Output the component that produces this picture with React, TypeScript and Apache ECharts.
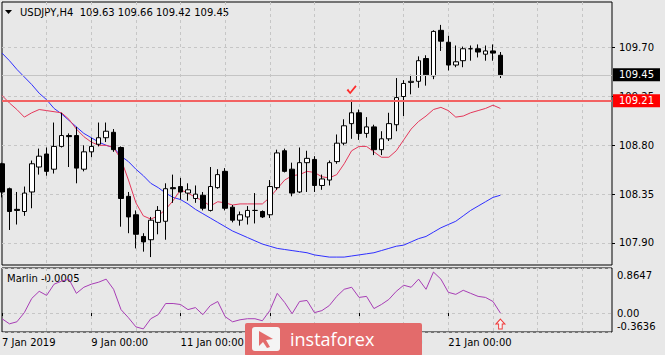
import React, { useEffect, useRef } from 'react';
import * as echarts from 'echarts';

// ---------------- data ----------------
const instrument = 'USDJPY,H4';
const year = 2019;
const days = ['7 Jan', '8 Jan', '9 Jan', '10 Jan', '11 Jan', '14 Jan', '15 Jan', '16 Jan', '17 Jan', '18 Jan', '21 Jan', '22 Jan', '23 Jan', '24 Jan', '25 Jan'];
const hours = ['00:00', '04:00', '08:00', '12:00', '16:00', '20:00'];

const opens = [
  108.63, 108.40, 108.21, 108.19, 108.37, 108.60, 108.72, 108.58, 108.79, 108.89,
  108.89, 108.58, 108.74, 108.81, 108.87, 108.92, 108.78, 108.33, 108.16, 107.96,
  107.93, 108.09, 108.10, 108.41, 108.42, 108.36, 108.31, 108.34, 108.20, 108.41,
  108.56, 108.23, 108.11, 108.14, 108.20, 108.19, 108.16, 108.41, 108.75, 108.58,
  108.37, 108.64, 108.67, 108.43, 108.48, 108.65, 108.82, 109.00, 109.10, 108.91,
  108.97, 108.76, 108.86, 108.99, 109.25, 109.38, 109.39, 109.60, 109.44, 109.86,
  109.75, 109.54, 109.58, 109.69, 109.69, 109.64, 109.67, 109.63,
];
const closes = [
  108.37, 108.19, 108.20, 108.36, 108.63, 108.70, 108.56, 108.79, 108.89, 108.88,
  108.59, 108.74, 108.79, 108.87, 108.93, 108.76, 108.31, 108.14, 107.98, 107.91,
  108.11, 108.20, 108.40, 108.40, 108.37, 108.39, 108.35, 108.22, 108.42, 108.53,
  108.22, 108.11, 108.16, 108.20, 108.20, 108.14, 108.42, 108.73, 108.56, 108.36,
  108.64, 108.68, 108.43, 108.49, 108.64, 108.82, 108.98, 109.10, 108.91, 108.97,
  108.76, 108.86, 109.00, 109.24, 109.37, 109.39, 109.58, 109.45, 109.85, 109.76,
  109.54, 109.57, 109.69, 109.69, 109.66, 109.67, 109.65, 109.45,
];
const highs = [
  108.64, 108.41, 108.37, 108.42, 108.66, 108.77, 108.78, 109.01, 109.10, 108.91,
  108.97, 108.80, 108.87, 109.01, 109.01, 108.95, 108.79, 108.37, 108.20, 107.99,
  108.14, 108.24, 108.45, 108.53, 108.50, 108.45, 108.43, 108.37, 108.60, 108.58,
  108.59, 108.25, 108.19, 108.24, 108.36, 108.20, 108.48, 108.76, 108.77, 108.64,
  108.78, 108.75, 108.70, 108.53, 108.66, 108.90, 109.04, 109.22, 109.13, 109.06,
  108.99, 108.93, 109.10, 109.42, 109.40, 109.45, 109.62, 109.63, 109.86, 109.91,
  109.81, 109.72, 109.71, 109.72, 109.73, 109.72, 109.73, 109.66,
];
const lows = [
  108.32, 108.02, 108.07, 108.15, 108.22, 108.53, 108.52, 108.54, 108.78, 108.60,
  108.45, 108.56, 108.69, 108.79, 108.83, 108.74, 108.05, 107.99, 107.85, 107.82,
  107.77, 107.98, 107.93, 108.27, 108.30, 108.29, 108.27, 108.20, 108.19, 108.40,
  108.20, 108.09, 108.06, 108.07, 108.08, 108.13, 108.13, 108.39, 108.55, 108.33,
  108.36, 108.37, 108.37, 108.39, 108.43, 108.63, 108.80, 108.86, 108.85, 108.87,
  108.71, 108.71, 108.84, 108.93, 109.07, 109.27, 109.33, 109.35, 109.41, 109.67,
  109.49, 109.52, 109.52, 109.58, 109.61, 109.58, 109.58, 109.42,
];
const maFast = [
  109.26, 109.19, 109.13, 109.06, 109.10, 109.13, 109.12, 109.11, 109.10, 109.04,
  108.95, 108.88, 108.83, 108.80, 108.80, 108.78, 108.67, 108.48, 108.27, 108.15,
  108.12, 108.15, 108.21, 108.29, 108.39, 108.36, 108.32, 108.29, 108.24, 108.28,
  108.27, 108.25, 108.26, 108.26, 108.26, 108.26, 108.32, 108.40, 108.48, 108.52,
  108.53, 108.56, 108.55, 108.51, 108.50, 108.53, 108.63, 108.75, 108.79, 108.79,
  108.74, 108.69, 108.69, 108.75, 108.85, 108.95, 109.02, 109.07, 109.13, 109.15,
  109.12, 109.06, 109.07, 109.10, 109.12, 109.14, 109.17, 109.14,
];
const maSlow = [
  109.65, 109.58, 109.50, 109.43, 109.36, 109.28, 109.22, 109.14, 109.09, 109.03,
  108.97, 108.91, 108.87, 108.83, 108.80, 108.78, 108.70, 108.65, 108.58, 108.52,
  108.45, 108.41, 108.36, 108.32, 108.30, 108.26, 108.21, 108.17, 108.13, 108.09,
  108.05, 108.01, 107.98, 107.95, 107.92, 107.89, 107.87, 107.85, 107.84, 107.83,
  107.82, 107.81, 107.79, 107.78, 107.77, 107.77, 107.77, 107.78, 107.79, 107.80,
  107.81, 107.83, 107.85, 107.87, 107.88, 107.91, 107.94, 107.96, 108.00, 108.04,
  108.07, 108.10, 108.15, 108.20, 108.24, 108.28, 108.32, 108.34,
];
const marlin = [
  -0.109, -0.207, -0.168, 0.008, 0.281, 0.417, 0.339, 0.554, 0.612, 0.651,
  0.378, 0.495, 0.554, 0.593, 0.651, 0.456, 0.066, -0.090, -0.265, -0.304,
  -0.109, -0.031, 0.183, 0.183, 0.164, 0.066, 0.105, -0.031, 0.144, 0.222,
  -0.070, -0.168, -0.129, -0.109, -0.109, -0.148, 0.047, 0.378, 0.203, -0.012,
  0.222, 0.242, 0.008, 0.047, 0.144, 0.320, 0.456, 0.495, 0.300, 0.320,
  0.086, 0.164, 0.261, 0.417, 0.534, 0.495, 0.651, 0.456, 0.787, 0.651,
  0.398, 0.359, 0.437, 0.378, 0.320, 0.300, 0.222, -0.0005,
];
const priceTicks = [107.90, 108.35, 108.80, 109.25, 109.70];
const marlinTicks = [0.8647, 0.0, -0.3636];
const priceRange = [107.697, 110.121];
const marlinRange = [-0.3636, 0.8647];
const levelLine = 109.21;
const checkBar = 47;
const futureSlots = 15;
const labelEvery = 12;
const gridEvery = 6;

// ---------------- helpers ----------------
const FONT = 'DejaVu Sans';
const N = opens.length;
const categories: string[] = [];
days.forEach((d) => hours.forEach((h) => categories.push(`${d} ${h}`)));
const axisCats = categories.slice(0, N + futureSlots);
const candles = opens.map((o, i) => [o, closes[i], lows[i], highs[i]]);

const checkPath = 'path://M0,5 L1.6,3.6 L3.6,6.4 L9,0 L10.4,1.2 L3.7,9 Z';
const arrowPath = 'path://M5,0 L10,5 L7,5 L7,10 L3,10 L3,5 L0,5 Z';

export default function App() {
  const ref = useRef<HTMLDivElement>(null);

  useEffect(() => {
    if (!ref.current) return;
    const chart = echarts.init(ref.current, undefined, { renderer: 'svg' });
    const last = N - 1;
    const header = `${instrument}  ${opens[last].toFixed(2)} ${highs[last].toFixed(2)} ${lows[last].toFixed(2)} ${closes[last].toFixed(2)}`;
    const dash = { color: '#c6c6c6', type: [3, 3] as number[], width: 1 };

    const xBase = (gridIndex: number, showLabels: boolean) => ({
      type: 'category' as const,
      gridIndex,
      data: axisCats,
      boundaryGap: false,
      axisLine: { show: false },
      axisTick: {
        show: showLabels,
        length: 3,
        interval: (i: number) => i % labelEvery === 0 && i < N,
        lineStyle: { color: '#000' },
      },
      axisLabel: {
        show: showLabels,
        interval: (i: number) => i % labelEvery === 0 && i < N,
        formatter: (v: string, i: number) => (i === 0 ? `${days[0]} ${year}` : v),
        align: 'left' as const,
        margin: 5,
        color: '#000',
        fontSize: 10,
        fontFamily: FONT,
      },
      splitLine: {
        show: true,
        interval: (i: number) => i > 0 && i % gridEvery === 0,
        lineStyle: dash,
      },
    });

    const Z = 100;
    chart.setOption({
      animation: false,
      backgroundColor: '#e8e8e8',
      grid: [
        { left: 2, top: 2, width: 610, height: 263, show: true, borderColor: '#000', borderWidth: 1, backgroundColor: 'transparent', outerBoundsMode: 'none' },
        { left: 2, top: 268, width: 610, height: 64, show: true, borderColor: '#000', borderWidth: 1, backgroundColor: 'transparent', outerBoundsMode: 'none' },
      ],
      xAxis: [xBase(0, false), xBase(1, true)],
      yAxis: [
        {
          type: 'value',
          gridIndex: 0,
          position: 'right',
          min: priceRange[0],
          max: priceRange[1],
          axisLine: { show: false },
          axisTick: { show: true, length: 3, customValues: priceTicks, lineStyle: { color: '#000' } },
          axisLabel: {
            customValues: priceTicks,
            formatter: (v: number) => v.toFixed(2),
            margin: 7,
            color: '#000',
            fontSize: 10,
            fontFamily: FONT,
          },
          splitLine: { show: true, lineStyle: dash },
        },
        {
          type: 'value',
          gridIndex: 1,
          position: 'right',
          min: marlinRange[0],
          max: marlinRange[1],
          axisLine: { show: false },
          axisTick: { show: false, customValues: marlinTicks },
          axisLabel: {
            customValues: marlinTicks,
            formatter: (v: number) => {
              if (v === marlinRange[1]) return `{top|${v.toFixed(4)}}`;
              if (v === marlinRange[0]) return `{bot|${v.toFixed(4)}}`;
              return v.toFixed(2);
            },
            rich: {
              top: { padding: [14, 0, 0, 0], color: '#000', fontSize: 10, fontFamily: FONT },
              bot: { padding: [0, 0, 11, 0], color: '#000', fontSize: 10, fontFamily: FONT },
            },
            margin: 5,
            color: '#000',
            fontSize: 10,
            fontFamily: FONT,
          },
          splitLine: { show: true, lineStyle: dash },
        },
      ],
      series: [
        {
          type: 'line',
          name: 'MA slow',
          xAxisIndex: 0,
          yAxisIndex: 0,
          data: maSlow,
          showSymbol: false,
          lineStyle: { color: '#2f2fff', width: 1 },
          z: 2,
        },
        {
          type: 'line',
          name: 'MA fast',
          xAxisIndex: 0,
          yAxisIndex: 0,
          data: maFast,
          showSymbol: false,
          lineStyle: { color: '#e4375a', width: 1 },
          z: 2,
        },
        {
          type: 'candlestick',
          name: instrument,
          xAxisIndex: 0,
          yAxisIndex: 0,
          data: candles,
          barWidth: 5,
          clip: false,
          z: 3,
          itemStyle: {
            color: '#ffffff',
            color0: '#000000',
            borderColor: '#000000',
            borderColor0: '#000000',
            borderWidth: 1,
          },
          markLine: {
            silent: true,
            symbol: ['none', 'none'],
            data: [
              {
                yAxis: closes[last],
                lineStyle: { color: '#c4c4c4', width: 1, type: 'solid' },
                label: {
                  show: true,
                  position: 'end',
                  distance: 1,
                  formatter: (p: any) => Number(p.value).toFixed(2),
                  backgroundColor: '#000',
                  color: '#fff',
                  padding: [2, 6, 1, 6],
                  fontSize: 10,
                  fontFamily: FONT,
                },
              },
              {
                yAxis: levelLine,
                lineStyle: { color: '#f26262', width: 2, type: 'solid' },
                label: {
                  show: true,
                  position: 'end',
                  distance: 1,
                  formatter: (p: any) => Number(p.value).toFixed(2),
                  backgroundColor: '#ff0000',
                  color: '#fff',
                  padding: [2, 6, 1, 6],
                  fontSize: 10,
                  fontFamily: FONT,
                },
              },
            ],
          },
          markPoint: {
            silent: true,
            label: { show: false },
            data: [
              {
                coord: [checkBar, highs[checkBar]],
                symbol: checkPath,
                symbolSize: [10, 9],
                symbolOffset: [0, -10],
                itemStyle: { color: '#ff2b2b' },
              },
            ],
          },
        },
        {
          type: 'line',
          name: 'Marlin',
          xAxisIndex: 1,
          yAxisIndex: 1,
          data: marlin,
          showSymbol: false,
          lineStyle: { color: '#a73db5', width: 1 },
          markPoint: {
            silent: true,
            label: { show: false },
            data: [
              {
                coord: [last, marlin[last]],
                symbol: arrowPath,
                symbolSize: [9, 10],
                symbolOffset: [0, 11],
                itemStyle: { color: 'rgba(255,255,255,0.5)', borderColor: '#f03a3a', borderWidth: 1 },
              },
            ],
          },
        },
      ],
      graphic: [
        { type: 'polygon', shape: { points: [[5, 10], [12, 10], [8.5, 14]] }, style: { fill: '#000' } },
        { type: 'text', x: 20, y: 12, style: { text: header, fill: '#000', font: `10px "${FONT}"`, verticalAlign: 'middle' } },
        { type: 'text', x: 7, y: 278, style: { text: `Marlin ${marlin[last].toFixed(4)}`, fill: '#000', font: `10px "${FONT}"`, verticalAlign: 'middle' } },
        {
          type: 'group',
          z: Z,
          children: [
            { type: 'rect', z: Z, shape: { x: 245, y: 323, width: 177, height: 33, r: 2 }, style: { fill: '#e36b6b' } },
            { type: 'rect', z: Z + 1, shape: { x: 252, y: 327, width: 28, height: 24, r: 3 }, style: { fill: '#f4f4f4' } },
            { type: 'polygon', z: Z + 2, shape: { points: [[259, 331], [273, 339], [266, 340], [270, 347], [267, 348], [263, 342], [259, 346]] }, style: { fill: '#e36b6b' } },
            { type: 'text', z: Z + 2, x: 290, y: 339, style: { text: 'instaforex', fill: '#fff', font: '18px "Open Sans"', verticalAlign: 'middle' } },
          ],
        },
      ],
    });
    return () => chart.dispose();
  }, []);

  return (
    <div style={{ position: 'fixed', left: 0, top: 0, width: 665, height: 355, background: '#e8e8e8' }}>
      <div ref={ref} style={{ width: 665, height: 355 }} />
    </div>
  );
}
